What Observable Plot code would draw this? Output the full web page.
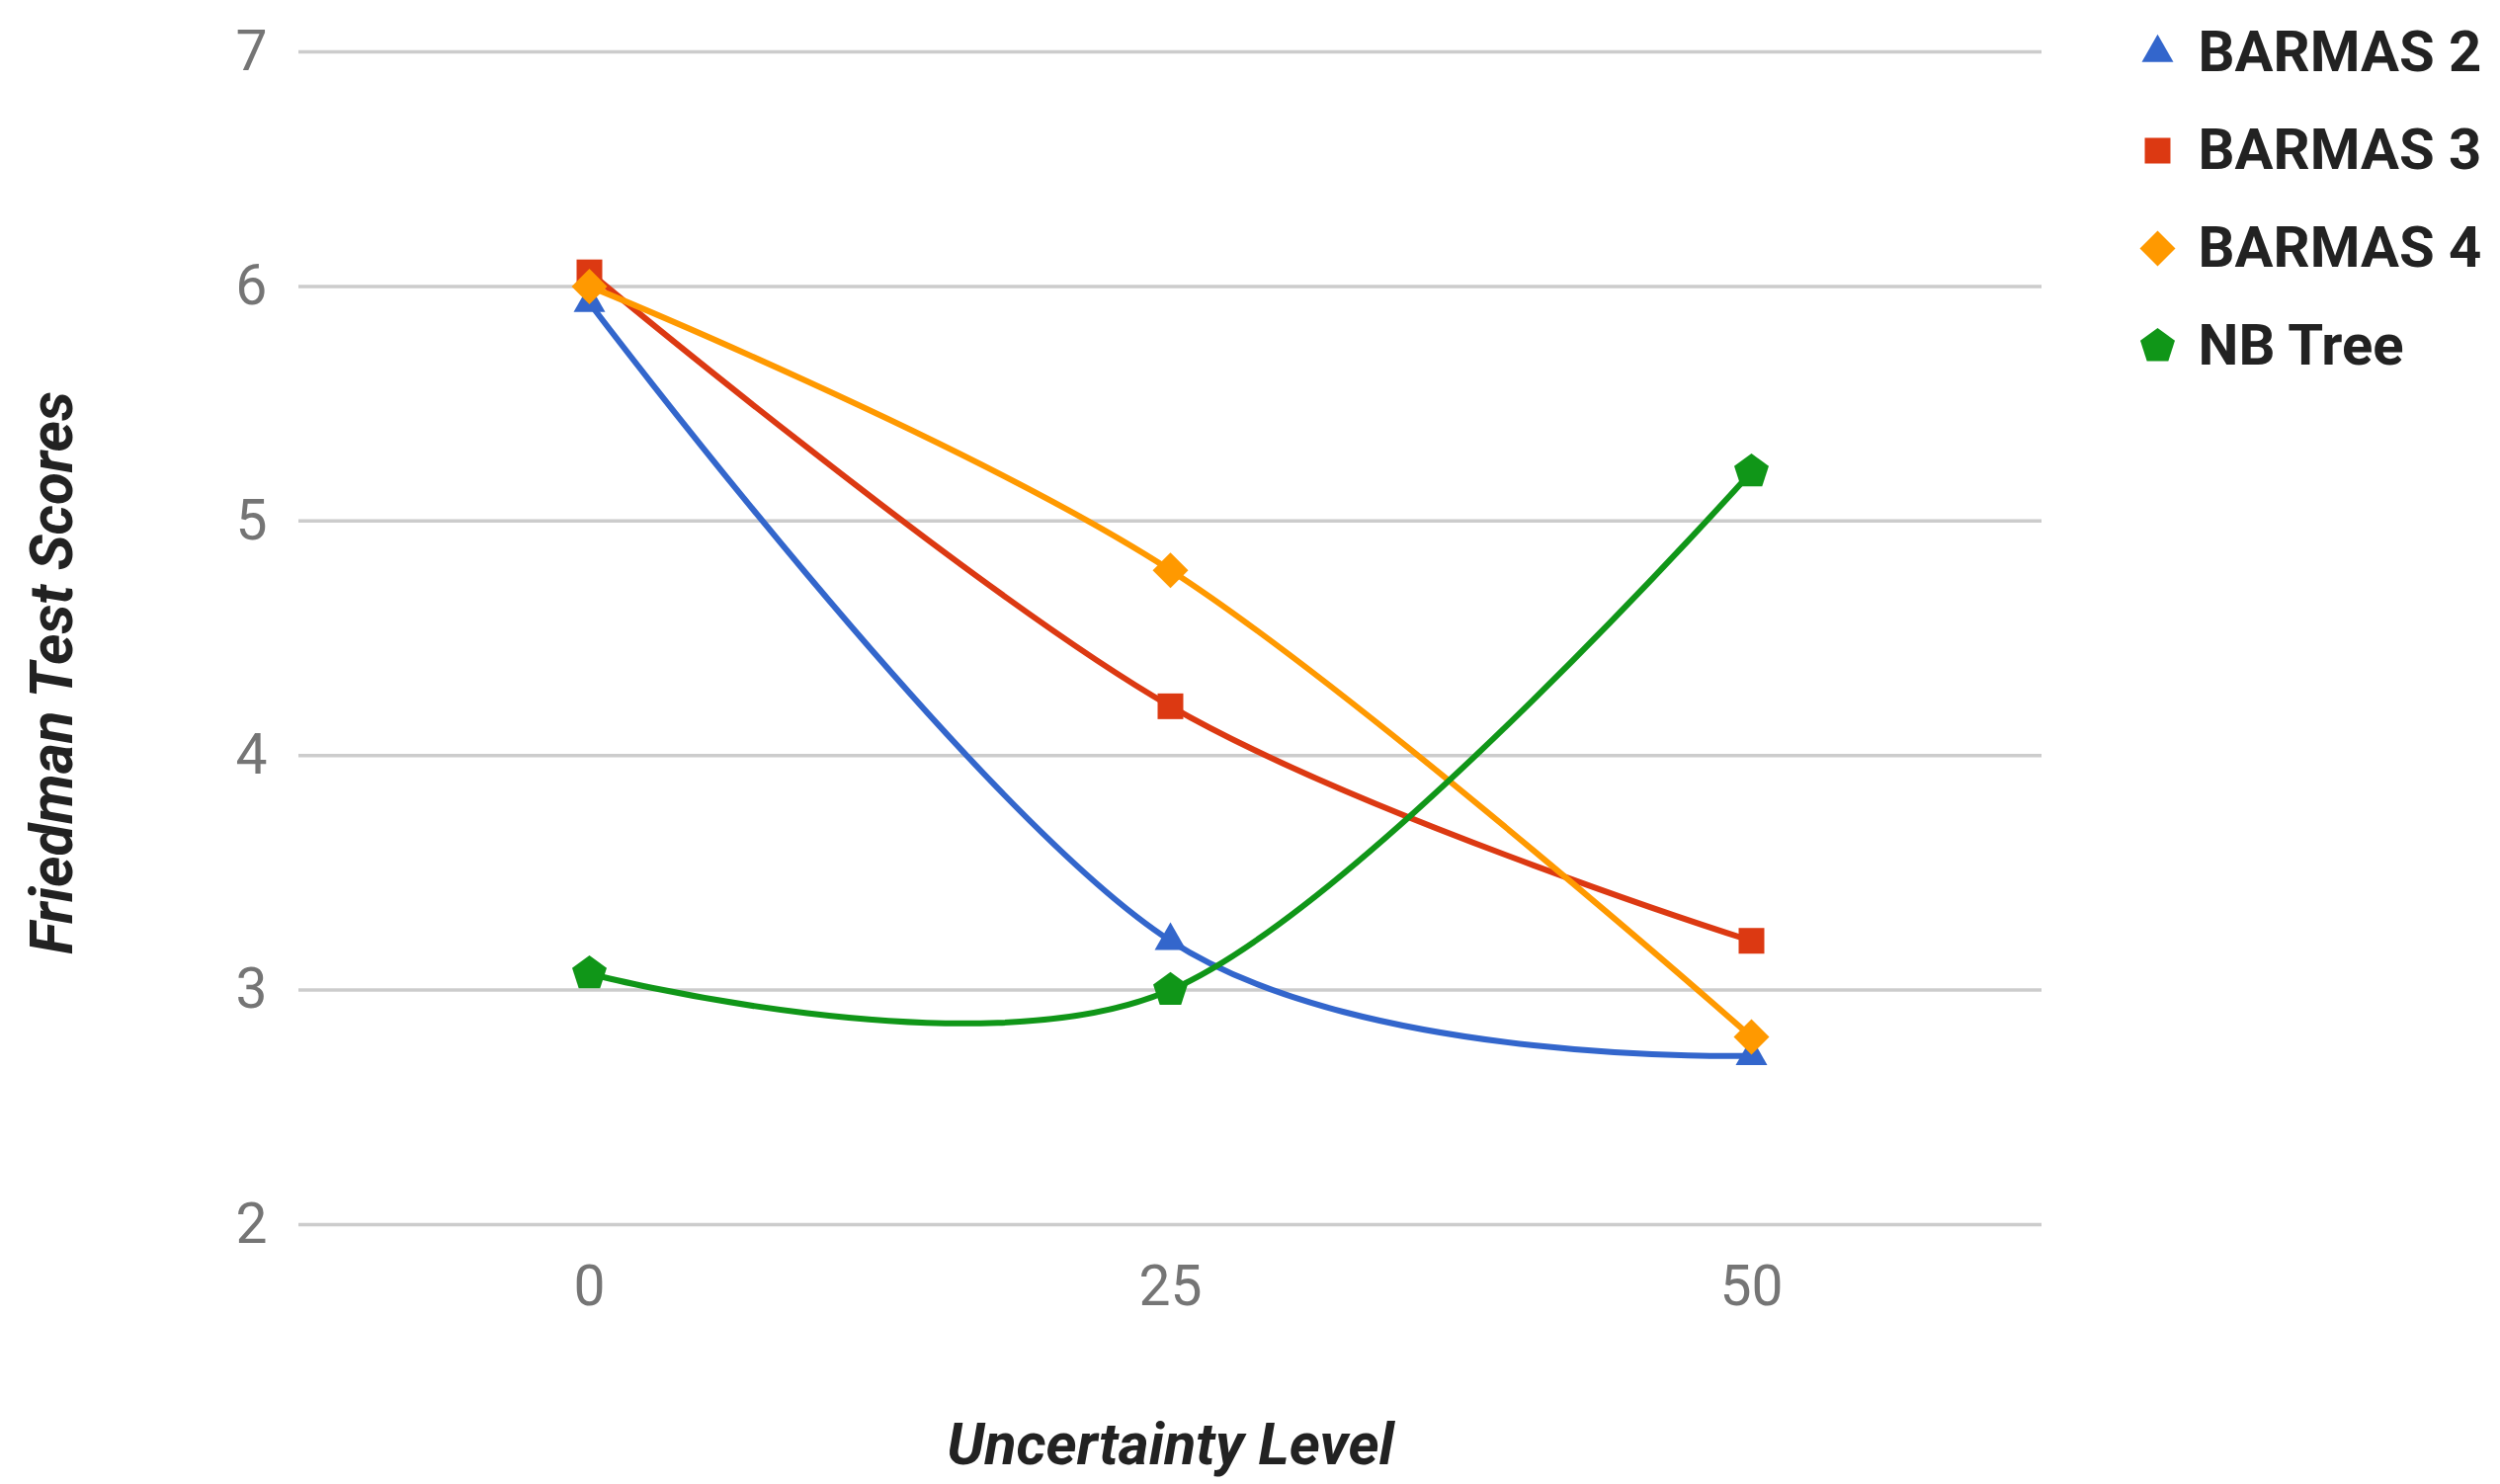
<!DOCTYPE html>
<html><head><meta charset="utf-8">
<script src="https://cdn.jsdelivr.net/npm/d3@7"></script>
<script src="https://cdn.jsdelivr.net/npm/@observablehq/plot@0.6"></script>
<style>
html,body{margin:0;padding:0;background:#fff;}
#wrap{position:relative;width:2530px;height:1502px;}
#legend{position:absolute;left:2140px;top:0;}
</style></head><body><div id="wrap"><div id="chart"></div><div id="legend"></div></div>
<script>
const levels = [0, 25, 50];
const seriesNames = ["BARMAS 2", "BARMAS 3", "BARMAS 4", "NB Tree"];
const barmas2 = [5.93, 3.21, 2.72];
const barmas3 = [6.06, 4.21, 3.21];
const barmas4 = [6.00, 4.79, 2.80];
const nbTree = [3.07, 3.00, 5.21];
const colors = ["#3366cc", "#dc3912", "#ff9900", "#109618"];
const yTicks = [2, 3, 4, 5, 6, 7];
const xTicks = [0, 25, 50];
const xTitle = "Uncertainty Level";
const yTitle = "Friedman Test Scores";

const seriesValues = [barmas2, barmas3, barmas4, nbTree];
const rows = seriesNames.flatMap((name, i) => levels.map((lv, j) => ({series: name, level: lv, score: seriesValues[i][j]})));

// marker shapes (scaled by the dot's r)
const REF = Math.sqrt(Math.PI * 100);
function scaleOf(size) { return Math.sqrt(size) / REF; }
const triangle = {draw(ctx, size) { const s = scaleOf(size), h = 28 * s, w = 32 * s; ctx.moveTo(0, -2 * h / 3); ctx.lineTo(w / 2, h / 3); ctx.lineTo(-w / 2, h / 3); ctx.closePath(); }};
const square = {draw(ctx, size) { const a = 13 * scaleOf(size); ctx.moveTo(-a, -a); ctx.lineTo(a, -a); ctx.lineTo(a, a); ctx.lineTo(-a, a); ctx.closePath(); }};
const diamond = {draw(ctx, size) { const a = 18 * scaleOf(size); ctx.moveTo(0, -a); ctx.lineTo(a, 0); ctx.lineTo(0, a); ctx.lineTo(-a, 0); ctx.closePath(); }};
const pentagon = {draw(ctx, size) { const R = 18.4 * scaleOf(size); for (let k = 0; k < 5; k++) { const t = -Math.PI / 2 + k * 2 * Math.PI / 5; const px = R * Math.cos(t), py = R * Math.sin(t); if (k) ctx.lineTo(px, py); else ctx.moveTo(px, py); } ctx.closePath(); }};
const symbols = [triangle, square, diamond, pentagon];

const font = "Roboto, 'Noto Sans', sans-serif";

const chart = Plot.plot({
  width: 2530, height: 1502,
  marginLeft: 302, marginRight: 464, marginTop: 52, marginBottom: 263,
  style: {fontFamily: font, background: "#fff", overflow: "visible"},
  x: {domain: [-12.5, 62.5]},
  y: {domain: [2, 7]},
  marks: [
    Plot.gridY(yTicks, {stroke: "#cccccc", strokeOpacity: 1, strokeWidth: 3.5}),
    Plot.axisY(yTicks, {tickSize: 0, tickPadding: 32, fontSize: 57, color: "#757575", label: null, tickFormat: d => String(d)}),
    Plot.axisX(xTicks, {tickSize: 0, tickPadding: 41, fontSize: 57, color: "#757575", label: null, tickFormat: d => String(d)}),
    ...seriesNames.map((name, i) => Plot.line(rows.filter(d => d.series === name), {x: "level", y: "score", stroke: colors[i], strokeWidth: 6, curve: "cardinal"})),
    ...seriesNames.map((name, i) => Plot.dot(rows.filter(d => d.series === name), {x: "level", y: "score", symbol: symbols[i], r: 10, fill: colors[i], stroke: "none"})),
    Plot.text([xTitle], {frameAnchor: "bottom", dy: 223, text: d => d, textAnchor: "middle", lineAnchor: "middle", fontSize: 59.5, fontWeight: "bold", fontStyle: "italic", fill: "#222"}),
    Plot.text([yTitle], {frameAnchor: "left", dx: -249, dy: 35, rotate: -90, text: d => d, textAnchor: "middle", lineAnchor: "middle", fontSize: 60, fontWeight: "bold", fontStyle: "italic", fill: "#222"})
  ]
});
document.getElementById("chart").append(chart);

const legend = Plot.plot({
  width: 390, height: 420, margin: 0,
  style: {fontFamily: font, background: "transparent", overflow: "visible"},
  y: {type: "point", domain: seriesNames, range: [52, 350], padding: 0, axis: null},
  marks: [
    ...seriesNames.map((name, i) => Plot.dot([name], {y: d => d, frameAnchor: "left", dx: 43, symbol: symbols[i], r: 10, fill: colors[i], stroke: "none"})),
    Plot.text(seriesNames, {y: d => d, text: d => d, frameAnchor: "left", dx: 84, textAnchor: "start", fontSize: 58, fontWeight: "bold", fill: "#222"})
  ]
});
document.getElementById("legend").append(legend);
</script>
</body></html>
